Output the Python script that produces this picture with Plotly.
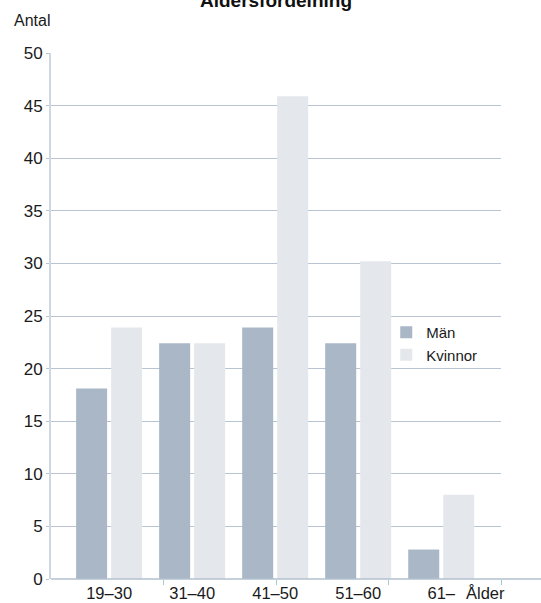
import plotly.graph_objects as go

categories = ["19–30", "31–40", "41–50", "51–60", "61–"]
man_values = [18.1, 22.4, 23.9, 22.4, 2.8]
kvinnor_values = [23.9, 22.4, 45.9, 30.2, 8.0]
series_names = ["Män", "Kvinnor"]
title_text = "Åldersfördelning"
y_title = "Antal"
x_title = "Ålder"

FONT = "Liberation Sans, Arial, sans-serif"
GRID = "#b9c4d2"

fig = go.Figure()
fig.add_trace(go.Bar(x=categories, y=man_values, name=series_names[0],
                     marker=dict(color="#a9b7c7", line=dict(width=0))))
fig.add_trace(go.Bar(x=categories, y=kvinnor_values, name=series_names[1],
                     marker=dict(color="#e4e8ed", line=dict(width=0))))
# empty helper trace so the overlaid tick-mark axis is drawn
fig.add_trace(go.Scatter(x=[], y=[], xaxis="x2", yaxis="y", showlegend=False,
                         hoverinfo="skip"))

fig.update_layout(
    width=541, height=603,
    margin=dict(l=51, r=40, t=53, b=24, pad=0, autoexpand=False),
    paper_bgcolor="white", plot_bgcolor="white",
    barmode="group", bargap=0.157, bargroupgap=0.114,
    font=dict(family=FONT, size=17, color="#1a1a1a"),
    title=dict(text=title_text, x=0.5, xref="paper", y=1.0, yref="container",
               yanchor="middle", xanchor="center",
               font=dict(family=FONT, size=19, weight="bold", color="#111")),
    xaxis=dict(type="category", range=[-0.7, 4.72], showgrid=False, zeroline=False,
               showline=False, ticks="", tickfont=dict(size=16.5, color="#1a1a1a"),
               ticklabelstandoff=2, automargin=False),
    xaxis2=dict(overlaying="x", anchor="y", range=[0, 4], tickvals=[1, 2, 3, 4],
                ticks="outside", ticklen=5, tickwidth=1, tickcolor="#9fcfc4",
                showticklabels=False, showgrid=False, zeroline=False, showline=False,
                automargin=False),
    yaxis=dict(range=[0, 50], dtick=5, showgrid=True, gridcolor=GRID, gridwidth=1,
               zeroline=False, showline=True, linecolor="#cfd7e3", linewidth=2,
               ticks="outside", ticklen=3, tickcolor=GRID,
               tickfont=dict(size=17, color="#1a1a1a"), automargin=False),
    legend=dict(x=0.745, y=0.5, xanchor="left", yanchor="top",
                bgcolor="rgba(0,0,0,0)", font=dict(size=15, color="#1a1a1a"),
                traceorder="normal", itemwidth=30),
    showlegend=True,
)

# x-axis baseline (extends past plot area as in the reference)
fig.add_shape(type="line", xref="paper", yref="paper", x0=0, x1=1.089, y0=0, y1=0,
              line=dict(color="#b3c0cf", width=1.5), layer="above")

fig.add_annotation(text=y_title, xref="paper", yref="paper", x=-0.087, y=1.062,
                   xanchor="left", yanchor="middle", showarrow=False,
                   font=dict(size=16, color="#1a1a1a"))
fig.add_annotation(text=x_title, xref="paper", yref="paper", x=0.9656, y=-0.027,
                   xanchor="center", yanchor="middle", showarrow=False,
                   font=dict(size=16.5, color="#1a1a1a"))

fig.write_html("out.html")
